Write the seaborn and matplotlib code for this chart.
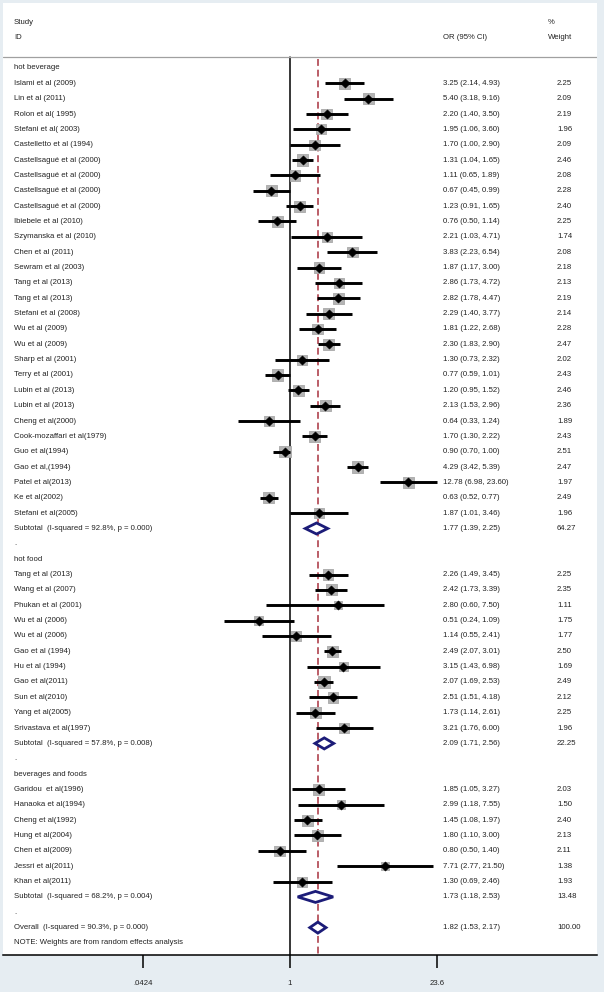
import numpy as np
import pandas as pd
import matplotlib
matplotlib.use("Agg")
import matplotlib.pyplot as plt
import matplotlib.transforms as mtransforms
from matplotlib.patches import Polygon
import seaborn as sns

# ---------------- data ----------------
groups = ["hot beverage", "hot food", "beverages and foods"]

bev_studies = ["Islami et al (2009)", "Lin et al (2011)", "Rolon et al( 1995)", "Stefani et al( 2003)",
               "Castelletto et al (1994)", "Castellsagué et al (2000)", "Castellsagué et al (2000)",
               "Castellsagué et al (2000)", "Castellsagué et al (2000)", "Ibiebele et al (2010)",
               "Szymanska et al (2010)", "Chen et al (2011)", "Sewram et al (2003)", "Tang et al (2013)",
               "Tang et al (2013)", "Stefani et al (2008)", "Wu et al (2009)", "Wu et al (2009)",
               "Sharp et al (2001)", "Terry et al (2001)", "Lubin et al (2013)", "Lubin et al (2013)",
               "Cheng et al(2000)", "Cook-mozaffari et al(1979)", "Guo et al(1994)", "Gao et al,(1994)",
               "Patel et al(2013)", "Ke et al(2002)", "Stefani et al(2005)"]
bev_or = [3.25, 5.40, 2.20, 1.95, 1.70, 1.31, 1.11, 0.67, 1.23, 0.76, 2.21, 3.83, 1.87, 2.86, 2.82,
          2.29, 1.81, 2.30, 1.30, 0.77, 1.20, 2.13, 0.64, 1.70, 0.90, 4.29, 12.78, 0.63, 1.87]
bev_lo = [2.14, 3.18, 1.40, 1.06, 1.00, 1.04, 0.65, 0.45, 0.91, 0.50, 1.03, 2.23, 1.17, 1.73, 1.78,
          1.40, 1.22, 1.83, 0.73, 0.59, 0.95, 1.53, 0.33, 1.30, 0.70, 3.42, 6.98, 0.52, 1.01]
bev_hi = [4.93, 9.16, 3.50, 3.60, 2.90, 1.65, 1.89, 0.99, 1.65, 1.14, 4.71, 6.54, 3.00, 4.72, 4.47,
          3.77, 2.68, 2.90, 2.32, 1.01, 1.52, 2.96, 1.24, 2.22, 1.00, 5.39, 23.60, 0.77, 3.46]
bev_w = [2.25, 2.09, 2.19, 1.96, 2.09, 2.46, 2.08, 2.28, 2.40, 2.25, 1.74, 2.08, 2.18, 2.13, 2.19,
         2.14, 2.28, 2.47, 2.02, 2.43, 2.46, 2.36, 1.89, 2.43, 2.51, 2.47, 1.97, 2.49, 1.96]

food_studies = ["Tang et al (2013)", "Wang et al (2007)", "Phukan et al (2001)", "Wu et al (2006)",
                "Wu et al (2006)", "Gao et al (1994)", "Hu et al (1994)", "Gao et al(2011)",
                "Sun et al(2010)", "Yang et al(2005)", "Srivastava et al(1997)"]
food_or = [2.26, 2.42, 2.80, 0.51, 1.14, 2.49, 3.15, 2.07, 2.51, 1.73, 3.21]
food_lo = [1.49, 1.73, 0.60, 0.24, 0.55, 2.07, 1.43, 1.69, 1.51, 1.14, 1.76]
food_hi = [3.45, 3.39, 7.50, 1.09, 2.41, 3.01, 6.98, 2.53, 4.18, 2.61, 6.00]
food_w = [2.25, 2.35, 1.11, 1.75, 1.77, 2.50, 1.69, 2.49, 2.12, 2.25, 1.96]

both_studies = ["Garidou  et al(1996)", "Hanaoka et al(1994)", "Cheng et al(1992)", "Hung et al(2004)",
                "Chen et al(2009)", "Jessri et al(2011)", "Khan et al(2011)"]
both_or = [1.85, 2.99, 1.45, 1.80, 0.80, 7.71, 1.30]
both_lo = [1.05, 1.18, 1.08, 1.10, 0.50, 2.77, 0.69]
both_hi = [3.27, 7.55, 1.97, 3.00, 1.40, 21.50, 2.46]
both_w = [2.03, 1.50, 2.40, 2.13, 2.11, 1.38, 1.93]

sub_labels = ["Subtotal  (I-squared = 92.8%, p = 0.000)",
              "Subtotal  (I-squared = 57.8%, p = 0.008)",
              "Subtotal  (I-squared = 68.2%, p = 0.004)"]
sub_or = [1.77, 2.09, 1.73]
sub_lo = [1.39, 1.71, 1.18]
sub_hi = [2.25, 2.56, 2.53]
sub_w = [64.27, 22.25, 13.48]

overall_label = "Overall  (I-squared = 90.3%, p = 0.000)"
overall_or, overall_lo, overall_hi, overall_w = 1.82, 1.53, 2.17, 100.00

tick_vals = [0.0424, 1, 23.6]
tick_labels = [".0424", "1", "23.6"]

# ---------------- build row table ----------------
rows = []  # (kind, label, or, lo, hi, w)
group_data = [
    (bev_studies, bev_or, bev_lo, bev_hi, bev_w),
    (food_studies, food_or, food_lo, food_hi, food_w),
    (both_studies, both_or, both_lo, both_hi, both_w),
]
for gi, (g, (st, o, l, h, w)) in enumerate(zip(groups, group_data)):
    rows.append(("group", g, None, None, None, None))
    for s, oo, ll, hh, ww in zip(st, o, l, h, w):
        rows.append(("study", s, oo, ll, hh, ww))
    rows.append(("sub", sub_labels[gi], sub_or[gi], sub_lo[gi], sub_hi[gi], sub_w[gi]))
    rows.append(("blank", ".", None, None, None, None))
rows.append(("sub", overall_label, overall_or, overall_lo, overall_hi, overall_w))
rows.append(("note", "NOTE: Weights are from random effects analysis", None, None, None, None))

df = pd.DataFrame(rows, columns=["kind", "label", "or", "lo", "hi", "w"])
df["row"] = np.arange(len(df))
studies = df[df.kind == "study"].copy()
subs = df[df.kind == "sub"].copy()

# ---------------- figure ----------------
W, H = 604, 992
sns.set_theme(style="white")
plt.rcParams["font.family"] = ["Liberation Sans Narrow", "Liberation Sans", "DejaVu Sans"]

fig = plt.figure(figsize=(W / 100, H / 100), dpi=100, facecolor="#e6edf2")
x0, x1, ytop, ybot = 3, 597, 3, 955
ax = fig.add_axes([x0 / W, 1 - ybot / H, (x1 - x0) / W, (ybot - ytop) / H])
ax.set_facecolor("white")

px_per_ln = 46.5
xc = 290
ax.set_xscale("log")
ax.set_xlim(np.exp((x0 - xc) / px_per_ln), np.exp((x1 - xc) / px_per_ln))
row0_px, row_px = 68, 15.35
ax.set_ylim((ybot - row0_px) / row_px, (ytop - row0_px) / row_px)

hdr_line = (57 - row0_px) / row_px

# reference lines
ax.plot([1, 1], [hdr_line, ax.get_ylim()[0]], color="black", lw=1.1, zorder=2)
ax.plot([overall_or, overall_or], [hdr_line + 0.1, ax.get_ylim()[0]], color="#a8323e",
        lw=1.1, ls=(0, (4.5, 2.5)), zorder=2)
ax.axhline(hdr_line, color="#a0a0a0", lw=0.9)

# weight squares
sns.scatterplot(data=studies, x="or", y="row", size="w", sizes=(1.11 * 27, 2.51 * 27),
                size_norm=(1.11, 2.51), marker="s", color="#b4b4b4", edgecolor="#a8a8a8",
                linewidth=0.6, legend=False, ax=ax, zorder=3)
# CI lines
ax.hlines(studies["row"], studies["lo"], studies["hi"], color="black", lw=2.1, zorder=4)
# point estimates
sns.scatterplot(data=studies, x="or", y="row", marker="D", color="black", s=22,
                edgecolor="black", legend=False, ax=ax, zorder=5)

# diamonds
for _, r in subs.iterrows():
    y = r["row"]
    poly = Polygon([(r["lo"], y), (r["or"], y - 0.36), (r["hi"], y), (r["or"], y + 0.36)],
                   closed=True, facecolor="white", edgecolor="#1c1c78", lw=2.0, zorder=5)
    ax.add_patch(poly)

# texts
trans = mtransforms.blended_transform_factory(ax.transAxes, ax.transData)
def fx(px):
    return (px - x0) / (x1 - x0)

fs = 5.6
tc = "#222222"
ax.text(fx(14), (23 - row0_px) / row_px, "Study", transform=trans, fontsize=fs, va="center", color=tc)
ax.text(fx(14), (38 - row0_px) / row_px, "ID", transform=trans, fontsize=fs, va="center", color=tc)
ax.text(fx(443), (38 - row0_px) / row_px, "OR (95% CI)", transform=trans, fontsize=fs, va="center", color=tc)
ax.text(fx(548), (23 - row0_px) / row_px, "%", transform=trans, fontsize=fs, va="center", color=tc)
ax.text(fx(548), (38 - row0_px) / row_px, "Weight", transform=trans, fontsize=fs, va="center", color=tc)

for _, r in df.iterrows():
    ax.text(fx(14), r["row"], r["label"], transform=trans, fontsize=fs, va="center", color=tc)
    if r["kind"] in ("study", "sub"):
        ax.text(fx(443), r["row"], f"{r['or']:.2f} ({r['lo']:.2f}, {r['hi']:.2f})",
                transform=trans, fontsize=fs, va="center", color=tc)
        ax.text(fx(557), r["row"], f"{r['w']:.2f}", transform=trans, fontsize=fs,
                va="center", color=tc)

# axes styling
for s in ["top", "left", "right"]:
    ax.spines[s].set_visible(False)
ax.spines["bottom"].set_color("black")
ax.spines["bottom"].set_linewidth(1.1)
ax.set_yticks([])
ax.set_xticks(tick_vals)
ax.set_xticklabels(tick_labels)
ax.xaxis.set_minor_locator(matplotlib.ticker.NullLocator())
ax.tick_params(axis="x", which="major", direction="out", length=9, width=1.1, color="black",
               labelsize=fs, labelcolor=tc, pad=9, bottom=True)
ax.set_xlabel("")
ax.set_ylabel("")

fig.savefig("out.png", dpi=100, facecolor=fig.get_facecolor())
